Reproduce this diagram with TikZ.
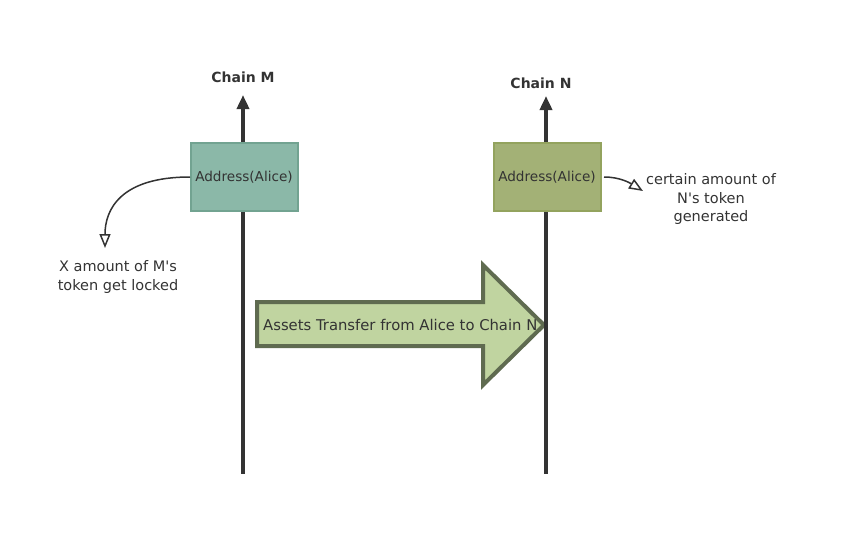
\documentclass[tikz,border=0pt]{standalone}
\usepackage{fontspec}
\setmainfont{DejaVu Sans}[Ligatures=TeXOff]
\usetikzlibrary{arrows.meta}
\definecolor{ink}{HTML}{333333}
\definecolor{boxM}{HTML}{8BB8A8}
\definecolor{boxMb}{HTML}{72A391}
\definecolor{boxN}{HTML}{A3B176}
\definecolor{boxNb}{HTML}{93A35E}
\definecolor{bigfill}{HTML}{C0D4A0}
\definecolor{bigdraw}{HTML}{5F6B50}
\tikzset{
  chainline/.style={draw=ink,line width=4pt},
  chainup/.style={draw=ink,line width=4pt,-{Triangle[length=14pt,width=12pt]}},
  addrbox/.style={minimum width=107pt,minimum height=68pt,line width=2pt,inner sep=0pt,font=\fontsize{13.6}{16}\selectfont,text=ink},
  note/.style={align=center,font=\fontsize{14.5}{18.5}\selectfont,text=ink},
  noteArrow/.style={draw=ink,line width=1.5pt,-{Triangle[open,length=14pt,width=11pt,line width=1.5pt]}},
  title/.style={font=\bfseries\fontsize{14}{16}\selectfont,text=ink}
}
\begin{document}
\begin{tikzpicture}[x=1pt,y=-1pt]
\useasboundingbox (0,0) rectangle (843,536);
% big block arrow
\draw[fill=bigfill,draw=bigdraw,line width=4pt,line join=miter]
  (257,302) -- (483,302) -- (483,265) -- (544,325) -- (483,385) -- (483,346) -- (257,346) -- cycle;
% boxes
\node[addrbox,fill=boxM,draw=boxMb] (bm) at (244,177) {Address(Alice)};
\node[addrbox,fill=boxN,draw=boxNb] (bn) at (547,177) {Address(Alice)};
% chain coordinates
\coordinate (mtop) at (243,95);
\coordinate (mbot) at (243,474);
\coordinate (ntop) at (546,96);
\coordinate (nbot) at (546,474);
\draw[chainup] (bm.north -| mtop) -- (mtop);
\draw[chainline] (bm.south -| mbot) -- (mbot);
\draw[chainup] (bn.north -| ntop) -- (ntop);
\draw[chainline] (bn.south -| nbot) -- (nbot);
% titles
\node[title] (tm) at (243,77) {Chain M};
\node[title] (tn) at (541,83) {Chain N};
% big arrow text
\node[anchor=west,font=\fontsize{14.8}{17}\selectfont,text=ink,inner sep=0pt] (bt) at (263,325) {Assets Transfer from Alice to Chain N};
% notes
\node[note] (nl) at (118,277) {X amount of M's\\token get locked};
\node[note] (nr) at (711,199) {certain amount of\\N's token\\generated};
\coordinate (la) at (190,177);
\coordinate (lb) at (105,248);
\draw[noteArrow] (la) .. controls (120,177) and (105,210) .. (lb);
\coordinate (ra) at (604,177);
\coordinate (rb) at (643,191);
\draw[noteArrow] (ra) .. controls (620,177) and (630,183) .. (rb);
\end{tikzpicture}
\end{document}
